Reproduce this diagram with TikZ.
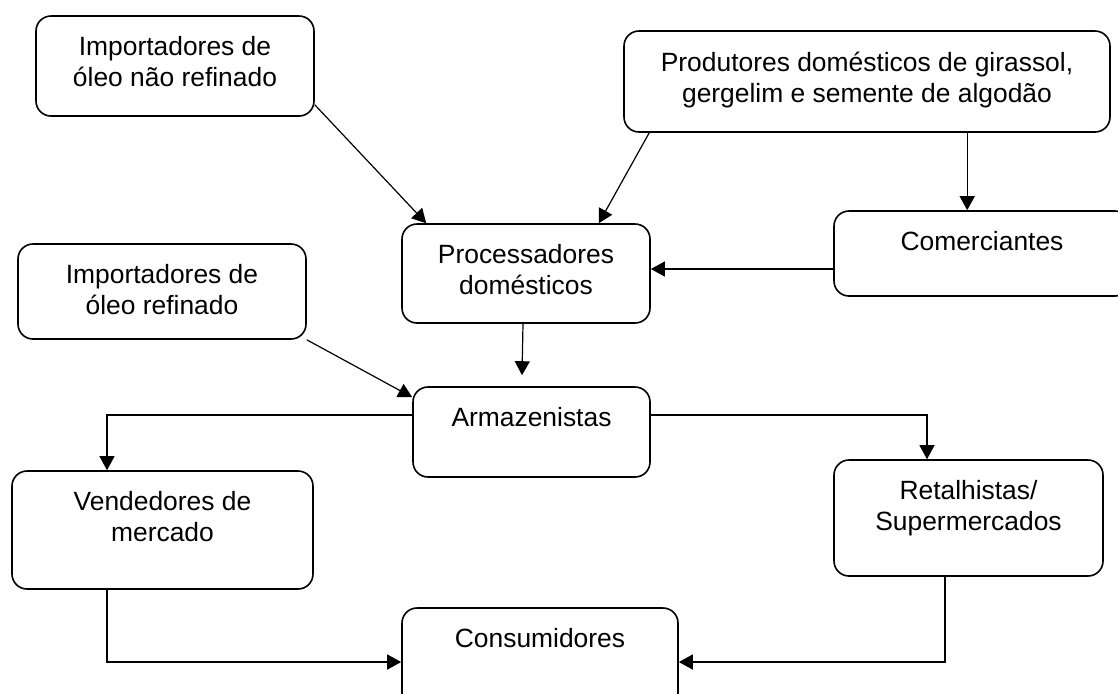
\documentclass[tikz,border=0pt]{standalone}
\usepackage{fontspec}
\setmainfont{Liberation Sans}
\usetikzlibrary{arrows.meta,calc}

\begin{document}
\begin{tikzpicture}[x=0.5pt,y=-0.5pt,
    box/.style={draw,line width=0.8pt,rounded corners=7.5pt,inner sep=0pt},
    lbl/.style={align=center,inner sep=0pt,font=\fontsize{13.2}{15.5}\selectfont},
    arr/.style={line width=0.6pt,-{Triangle[length=7pt,width=7.5pt]}}]
	\clip (0,0) rectangle (1118,693);

	% caixas
	\node (imp1) at (175,66) [box,minimum width=139pt,minimum height=50pt] {};
	\node (prod) at (867,81.5) [box,minimum width=243pt,minimum height=50.5pt] {};
	\node (proc) at (526,273.5) [box,minimum width=124pt,minimum height=49.5pt] {};
	\node (com) at (982,253.5) [box,minimum width=148pt,minimum height=42.5pt] {};
	\node (imp2) at (162,291.5) [box,minimum width=144pt,minimum height=47.5pt] {};
	\node (arm) at (531.5,432) [box,minimum width=118.5pt,minimum height=45pt] {};
	\node (vend) at (162.5,530) [box,minimum width=150.5pt,minimum height=59pt] {};
	\node (ret) at (968.5,518) [box,minimum width=134.5pt,minimum height=58pt] {};
	\node (cons) at (540,662) [box,minimum width=138pt,minimum height=54pt] {};

	% textos
	\node (imp1t) at (imp1.north) [lbl,below=10.5pt] {Importadores de\\óleo não refinado};
	\node (prodt) at (prod.north) [lbl,below=10.5pt] {Produtores domésticos de girassol,\\gergelim e semente de algodão};
	\node (proct) at (proc.north) [lbl,below=10.5pt] {Processadores\\domésticos};
	\node (comt) at (com.north) [lbl,below=10.5pt] {Comerciantes};
	\node (imp2t) at (imp2.north) [lbl,below=10.5pt] {Importadores de\\óleo refinado};
	\node (armt) at (arm.north) [lbl,below=10.5pt] {Armazenistas};
	\node (vendt) at (vend.north) [lbl,below=10.5pt] {Vendedores de\\mercado};
	\node (rett) at (ret.north) [lbl,below=10.5pt] {Retalhistas/\\Supermercados};
	\node (const) at (cons.north) [lbl,below=10.5pt] {Consumidores};

	% setas
	\draw[arr] ($(imp1.south east)+(0,-12)$) -- ($(proc.north west)+(25,0)$);
	\draw[arr] ($(prod.south west)+(26,0)$) -- ($(proc.north east)+(-52,0)$);
	\draw[arr] ($(prod.south west)+(344,0)$) -- ($(com.north west)+(134,0)$);
	\draw[arr] ($(com.west)+(0,15.5)$) -- ($(proc.east)+(0,-4.5)$);
	\draw[arr] ($(proc.south)+(-3,0)$) -- ($(arm.north)+(-9.5,-11)$);
	\draw[arr] (imp2.south east) -- ($(arm.north west)+(0,11)$);
	\draw[arr] ($(arm.west)+(0,-17)$) -| ($(vend.north)+(-55.5,0)$);
	\draw[arr] ($(arm.east)+(0,-17)$) -| ($(ret.north)+(-41.5,0)$);
	\draw[arr] ($(vend.south)+(-55.5,0)$) |- (cons.west);
	\draw[arr] ($(ret.south)+(-23.5,0)$) |- (cons.east);
\end{tikzpicture}
\end{document}
